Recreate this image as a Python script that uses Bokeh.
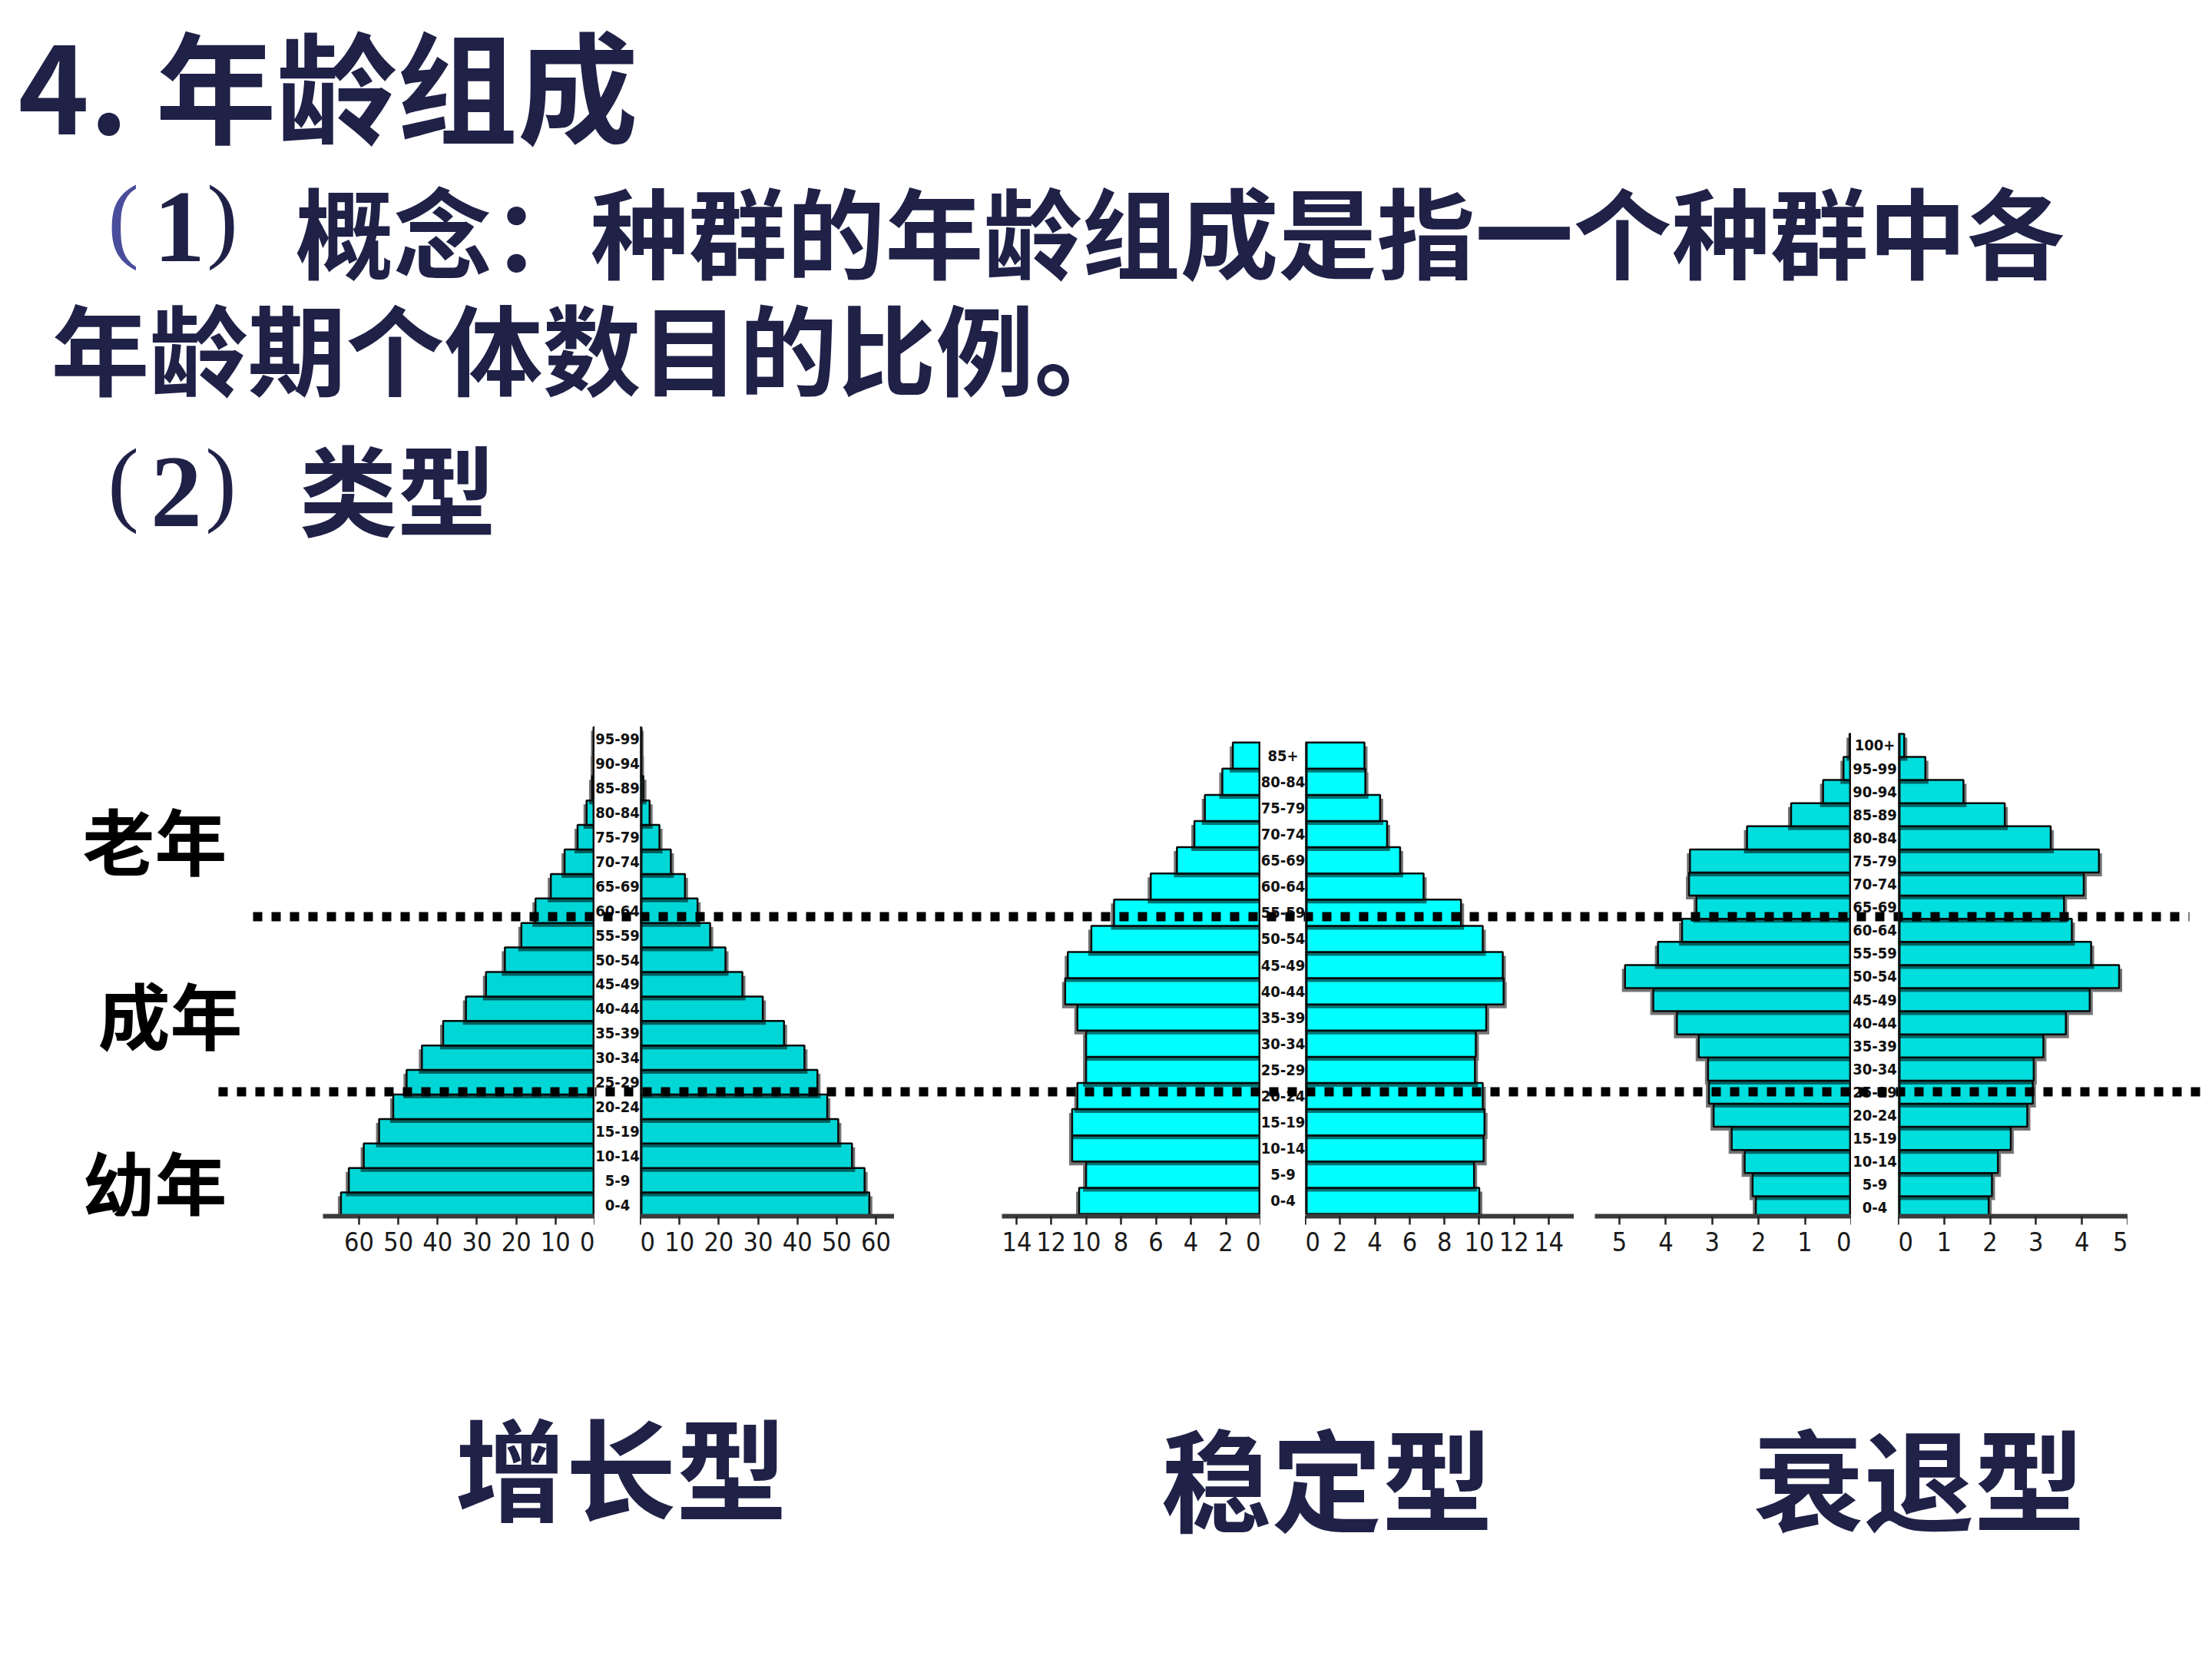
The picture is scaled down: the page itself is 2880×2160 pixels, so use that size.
import numpy as np
from bokeh.plotting import figure
from bokeh.models import Range1d, FixedTicker, Span
from bokeh.layouts import row, column
from bokeh.embed import file_html
from bokeh.resources import INLINE
from bokeh.core.properties import value

# ---------------- data ----------------
ages_growth = ["0-4", "5-9", "10-14", "15-19", "20-24", "25-29", "30-34", "35-39", "40-44",
               "45-49", "50-54", "55-59", "60-64", "65-69", "70-74", "75-79", "80-84",
               "85-89", "90-94", "95-99"]
growth_left = [64.6, 62.6, 58.8, 54.9, 51.3, 47.9, 44.0, 38.6, 32.8, 27.7, 22.9, 18.7,
               15.1, 11.2, 7.7, 4.4, 2.1, 0.7, 0.3, 0.2]
growth_right = [58.3, 57.1, 53.9, 50.4, 47.6, 45.1, 41.8, 36.6, 31.2, 26.0, 21.7, 17.8,
                14.6, 11.4, 7.8, 4.9, 2.4, 0.8, 0.2, 0.1]
growth_ticks = [0, 10, 20, 30, 40, 50, 60]

ages_stable = ["0-4", "5-9", "10-14", "15-19", "20-24", "25-29", "30-34", "35-39", "40-44",
               "45-49", "50-54", "55-59", "60-64", "65-69", "70-74", "75-79", "80-84", "85+"]
stable_left = [10.4, 10.0, 10.8, 10.8, 10.5, 10.0, 10.0, 10.5, 11.2, 11.05, 9.7, 8.4,
               6.3, 4.8, 3.8, 3.2, 2.2, 1.6]
stable_right = [10.0, 9.7, 10.25, 10.3, 10.2, 9.75, 9.8, 10.4, 11.4, 11.35, 10.2, 8.95,
                6.8, 5.45, 4.7, 4.3, 3.45, 3.4]
stable_ticks = [0, 2, 4, 6, 8, 10, 12, 14]

ages_decline = ["0-4", "5-9", "10-14", "15-19", "20-24", "25-29", "30-34", "35-39", "40-44",
                "45-49", "50-54", "55-59", "60-64", "65-69", "70-74", "75-79", "80-84",
                "85-89", "90-94", "95-99", "100+"]
decline_left = [2.06, 2.13, 2.30, 2.58, 2.97, 3.07, 3.09, 3.29, 3.76, 4.27, 4.88, 4.17,
                3.65, 3.34, 3.50, 3.48, 2.25, 1.30, 0.61, 0.17, 0.04]
decline_right = [1.97, 2.04, 2.17, 2.45, 2.81, 2.93, 2.95, 3.16, 3.65, 4.17, 4.81, 4.20,
                 3.78, 3.61, 4.04, 4.37, 3.32, 2.32, 1.42, 0.59, 0.13]
decline_ticks = [0, 1, 2, 3, 4, 5]

title_text = "4. 年龄组成"
concept_text = "概念：种群的年龄组成是指一个种群中各"
concept_text2 = "年龄期个体数目的比例。"
types_text = "类型"
stage_labels = ["老年", "成年", "幼年"]
type_labels = ["增长型", "稳定型", "衰退型"]

# ---------------- layout / style ----------------
NAVY = "#1f2147"
CJK = "Noto Sans CJK SC"
NARROW = "DejaVu Sans Condensed, Liberation Sans Narrow, Liberation Sans, sans-serif"
W, H = 2880, 2160
BAND_TOP, FRAME_BOTTOM, BAND_BOTTOM = 940, 1583, 1703
FH = FRAME_BOTTOM - BAND_TOP
BB = BAND_BOTTOM - FRAME_BOTTOM
DOTS = [(1193, 329, 2850), (1421, 284, 2868)]  # (y, x start, x end) in page pixels
PERIOD = 24

specs = [
    dict(ages=ages_growth, left=growth_left, right=growth_right, ticks=growth_ticks,
         xl=(420, 774), xc=(774, 833), xr=(833, 1164), ppu_l=5.117, ppu_r=5.117,
         row_px=31.9, base=1584, fill="#00D6D6", label_px=20),
    dict(ages=ages_stable, left=stable_left, right=stable_right, ticks=stable_ticks,
         xl=(1304, 1641), xc=(1641, 1699), xr=(1699, 2049), ppu_l=22.74, ppu_r=22.65,
         row_px=34.1, base=1580, fill="#00FFFF", label_px=20),
    dict(ages=ages_decline, left=decline_left, right=decline_right, ticks=decline_ticks,
         xl=(2076, 2410), xc=(2410, 2471), xr=(2471, 2770), ppu_l=60.4, ppu_r=59.79,
         row_px=30.1, base=1587, fill="#00DEDE", label_px=20),
]


def clean(p):
    p.grid.visible = False
    p.outline_line_color = None
    p.background_fill_color = "white"
    p.border_fill_color = "white"
    return p


def base_fig(w, xr, yr, axis=False):
    kw = dict(width=w, height=FH + BB, x_range=xr, y_range=yr, output_backend="svg",
              toolbar_location=None, y_axis_location=None, min_border_left=0,
              min_border_right=0, min_border_top=0, min_border_bottom=BB)
    if not axis:
        kw["x_axis_location"] = None
    return clean(figure(**kw))


def add_spans(p, x0):
    for y, xs, xe in DOTS:
        p.add_layout(Span(location=y, dimension="width", y_range_name="px",
                          line_color="black", line_width=12, line_dash="12 12",
                          line_dash_offset=(x0 - xs) % PERIOD))


def yrange(spec):
    return Range1d((spec["base"] - FRAME_BOTTOM) / spec["row_px"],
                   (spec["base"] - BAND_TOP) / spec["row_px"])


def half_fig(spec, side):
    x0, x1 = spec["xl"] if side == "L" else spec["xr"]
    w = x1 - x0
    ppu = spec["ppu_l"] if side == "L" else spec["ppu_r"]
    extent = w / ppu
    xr = Range1d(extent, 0) if side == "L" else Range1d(0, extent + 0.0005)
    p = base_fig(w, xr, yrange(spec), axis=True)
    p.extra_y_ranges = {"px": Range1d(FRAME_BOTTOM, BAND_TOP)}
    vals = np.array(spec["left"] if side == "L" else spec["right"], dtype=float)
    n = len(vals)
    ys = np.arange(n) + 0.5
    sx = 4.0 / ppu
    sy = 5.0 / spec["row_px"]
    # drop shadow
    p.hbar(y=ys - sy, height=1, left=0, right=vals + sx, fill_color="black",
           fill_alpha=0.55, line_color=None)
    # bars
    p.hbar(y=ys, height=1, left=0, right=vals, fill_color=spec["fill"],
           line_color="#0a0a0a", line_width=2.5)
    # shadow of each bar falling onto the bar below it
    top = np.arange(1, n)
    p.hbar(y=top - sy / 2, height=sy, left=0,
           right=np.minimum(vals[:-1], vals[1:] + sx), fill_color="black",
           fill_alpha=0.55, line_color=None)
    # zero line
    p.segment(x0=[0], y0=[0], x1=[0], y1=[n], line_color="#111111", line_width=6)
    ax = p.xaxis[0]
    ax.ticker = FixedTicker(ticks=spec["ticks"])
    ax.axis_line_width = 6
    ax.axis_line_color = "#3a3a3a"
    ax.major_tick_out = 11
    ax.major_tick_in = 0
    ax.major_tick_line_width = 2.5
    ax.major_tick_line_color = "#222222"
    ax.minor_tick_line_color = None
    ax.major_label_text_font = NARROW
    ax.major_label_text_font_size = "34px"
    ax.major_label_text_color = "#1a1a1a"
    ax.major_label_standoff = 9
    add_spans(p, x0)
    return p


def center_fig(spec):
    x0, x1 = spec["xc"]
    p = base_fig(x1 - x0, Range1d(0, 1), yrange(spec))
    p.extra_y_ranges = {"px": Range1d(FRAME_BOTTOM, BAND_TOP)}
    n = len(spec["ages"])
    p.text(x=0.5, y=np.arange(n) + 0.5, text=spec["ages"], text_align="center",
           text_baseline="middle", text_font=value(NARROW), text_font_style="bold",
           text_font_size=f"{spec['label_px']}px", text_color="#111111")
    add_spans(p, x0)
    return p


def px_fig(x0, x1):
    p = base_fig(x1 - x0, Range1d(x0, x1), Range1d(FRAME_BOTTOM, BAND_TOP))
    for y, xs, xe in DOTS:
        a, b = max(x0, xs), min(x1, xe)
        if b > a:
            p.segment(x0=[a], y0=[y], x1=[b], y1=[y], line_color="black", line_width=12,
                      line_dash="12 12", line_dash_offset=(a - xs) % PERIOD)
    return p


# left stage labels
s0 = px_fig(0, 420)
s0.text(x=[107, 127, 107], y=[1091, 1318, 1538], text=stage_labels, text_align="left",
        text_baseline="middle", text_font=value(CJK), text_font_style="bold",
        text_font_size="94px", text_color="black")

band_items = [s0]
gaps = [(1164, 1304), (2049, 2076), (2770, 2880)]
for i, spec in enumerate(specs):
    band_items += [half_fig(spec, "L"), center_fig(spec), half_fig(spec, "R")]
    band_items.append(px_fig(*gaps[i]))
band = row(*band_items, spacing=0)

# header
hd = figure(width=W, height=BAND_TOP, x_range=Range1d(0, W), y_range=Range1d(BAND_TOP, 0),
            output_backend="svg", toolbar_location=None, x_axis_location=None,
            y_axis_location=None, min_border=0)
clean(hd)
hd.text(x=[23], y=[106], text=[title_text], text_align="left", text_baseline="middle",
        text_font=value(CJK), text_font_style="bold", text_font_size="157px",
        text_color=NAVY)
hd.text(x=[384, 66, 389], y=[298, 450, 633], text=[concept_text, concept_text2, types_text],
        text_align="left", text_baseline="middle", text_font=value(CJK),
        text_font_style="bold", text_font_size="128px", text_color=NAVY)
hd.text(x=[160, 289, 160, 287], y=[284, 284, 627, 627], text=["(", ")", "(", ")"],
        text_align="center", text_baseline="middle", text_font=value("Liberation Serif"),
        text_font_size="122px", text_color=["#4a4c9c", NAVY, NAVY, NAVY])
hd.text(x=[233, 229], y=[295, 640], text=["1", "2"], text_align="center",
        text_baseline="middle", text_font=value("Liberation Serif"),
        text_font_style="bold", text_font_size="134px", text_color=NAVY)

# footer
ft = figure(width=W, height=H - BAND_BOTTOM, x_range=Range1d(0, W),
            y_range=Range1d(H, BAND_BOTTOM), output_backend="svg", toolbar_location=None,
            x_axis_location=None, y_axis_location=None, min_border=0)
clean(ft)
ft.text(x=[592, 1511, 2282], y=[1906, 1920, 1920], text=type_labels, text_align="left",
        text_baseline="middle", text_font=value(CJK), text_font_style="bold",
        text_font_size="144px", text_color=NAVY)

layout = column(hd, band, ft, spacing=0)
open("out.html", "w").write(file_html(layout, INLINE))
